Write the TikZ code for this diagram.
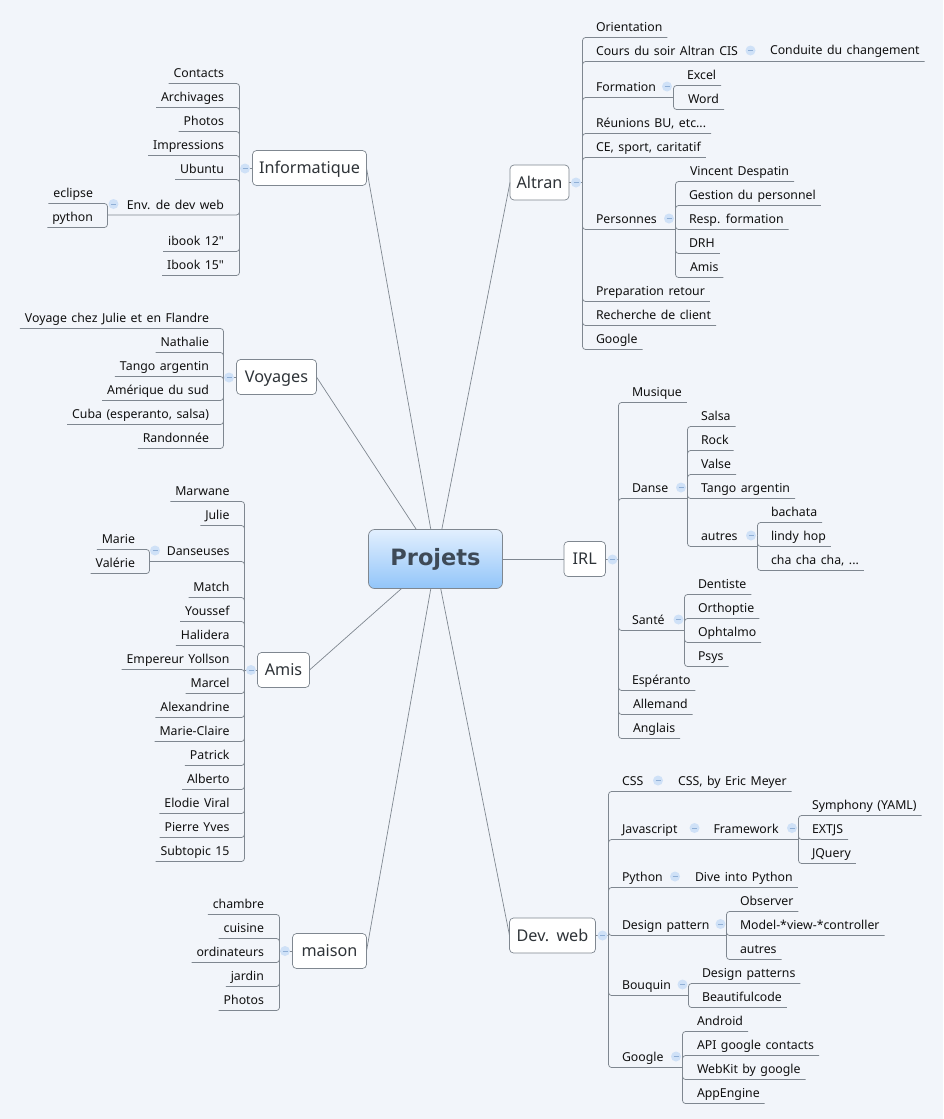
\documentclass[tikz,border=0pt]{standalone}
\usepackage{fontspec}
\newfontfamily\leaffont{Noto Sans}[WordSpace=1.4, Ligatures=NoCommon]
\newfontfamily\rootfont{DejaVu Sans}
\usetikzlibrary{positioning}
\definecolor{bgcol}{HTML}{F2F5FA}
\definecolor{linecol}{HTML}{7F8790}
\definecolor{hubcol}{HTML}{CFE1F7}
\definecolor{hubdash}{HTML}{8FAFD6}
\definecolor{leafcol}{HTML}{101010}
\definecolor{topiccol}{HTML}{2E3338}
\definecolor{rootcol}{HTML}{3E4A57}
\definecolor{roottop}{HTML}{E2EFFE}
\definecolor{rootbottom}{HTML}{92C5F9}
\tikzset{
  leaf/.style={inner xsep=5pt, inner ysep=2.3pt, text height=10pt, text depth=3.5pt, outer sep=0pt, text=leafcol, font=\leaffont\fontsize{12.3}{14}\selectfont},
  leafR/.style={leaf, anchor=south west},
  leafL/.style={leaf, anchor=south east},
  topicbox/.style={draw=linecol, fill=white, rounded corners=4pt, line width=0.7pt, minimum height=35pt, inner xsep=0pt, inner ysep=0pt, text height=15pt, text depth=3.4pt, outer sep=0pt, text=topiccol, font=\leaffont\fontsize{16.2}{18}\selectfont},
  branch/.style={draw=linecol, line width=0.75pt, rounded corners=3pt},
  spoke/.style={draw=linecol, line width=0.7pt},
  hub/.style={circle, fill=hubcol, minimum size=10pt, inner sep=0pt, outer sep=0pt, path picture={\draw[hubdash, line width=0.8pt] (-2.5,0)--(2.5,0);}},
}
\begin{document}
\begin{tikzpicture}[x=1pt, y=-1pt]
\fill[bgcol] (0,0) rectangle (943,1119);
\useasboundingbox (0,0) rectangle (943,1119);

%%%%%%%%%% Root and topics %%%%%%%%
{
\node[draw=linecol, rounded corners=6pt, line width=0.7pt, top color=roottop, bottom color=rootbottom, minimum width=134pt, minimum height=59pt, outer sep=0pt, text=rootcol, font=\rootfont\fontsize{22.5}{26}\selectfont\bfseries] (projets) at (435.5,559) {Projets};

\node[topicbox, minimum width=59pt] (altran) at (539.5,182.5) {Altran};
\node[topicbox, minimum width=41.5pt] (irl) at (584.75,559) {IRL};
\node[topicbox, minimum width=86pt] (devweb) at (552.5,935.5) {Dev. web};
\node[topicbox, minimum width=114pt] (informatique) at (309.5,168) {Informatique};
\node[topicbox, minimum width=80pt] (voyages) at (276.5,377) {Voyages};
\node[topicbox, minimum width=52pt] (amis) at (283.5,670) {Amis};
\node[topicbox, minimum width=74pt] (maison) at (329.5,951) {maison};
}
%%%%%%%%%% Spokes %%%%%%%%
{
\draw[spoke] (projets.78.7)--(altran.west);
\draw[spoke] (projets.99)--(informatique.east);
\draw[spoke] (projets.123.5)--(voyages.east);
\draw[spoke] (projets.0)--(irl.west);
\draw[spoke] (projets.221.4)--(amis.east);
\draw[spoke] (projets.261)--(maison.east);
\draw[spoke] (projets.280.6)--(devweb.west);
}
%%%%%%%%%%%%     Altran   %%%%%%%%%%%%
{
\coordinate (altranT) at (582.5,200);
\draw[spoke] (altran.east)--(altran.east -| altranT);
\foreach \nm/\yy/\txt in {orientation/37.5/Orientation, reunions/133.5/{Réunions BU, etc...}, ce/157.5/{CE, sport, caritatif}, preparation/301.5/Preparation retour, recherche/325.5/Recherche de client, googleA/349.5/Google}{
\node[leafR] (\nm) at (591,\yy) {\txt};
\draw[branch] (altranT)|-(\nm.south east);
}
\node[leafR] (cours) at (591,61.5) {Cours du soir Altran CIS};
\node[leafR] (conduite) at (765,61.5) [yshift=1.3pt]{Conduite du changement};
\draw[branch] (altranT)|-(cours.south east)--(conduite.south east |- cours.south);

\coordinate (formationT) at (673.5,90);
\node[leafR] (formation) at (591,97.5) {Formation};
\draw[branch] (altranT)|-(formation.south east)--(formation.south -| formationT);
\foreach \nm/\yy/\xx/\txt in {excel/85.5/682/Excel, word/109.5/683/Word}{
\node[leafR] (\nm) at (\xx,\yy) {\txt};
\draw[branch] (formationT)|-(\nm.south east);
}
\coordinate (personnesT) at (675.5,218);
\node[leafR] (personnes) at (591,229.5) {Personnes};
\draw[branch] (altranT)|-(personnes.south east)--(personnes.south -| personnesT);
\foreach \nm/\yy/\xx/\txt in {vincent/181.5/685/Vincent Despatin, gestion/205.5/684/Gestion du personnel, resp/229.5/684/Resp. formation, drh/253.5/684/DRH, amisA/277.5/685/Amis}{
\node[leafR] (\nm) at (\xx,\yy) {\txt};
\draw[branch] (personnesT)|-(\nm.south east);
}
\node[hub] (altranHub) at (576,182.5) {};
\node[hub] (coursHub) at (750.5,50.5) {};
\node[hub] (formationHub) at (667,86.5) {};
\node[hub] (personnesHub) at (669,218.5) {};
}
%%%%%%%%%%%%     IRL   %%%%%%%%%%%%
{
\coordinate (irlT) at (618.5,570);
\draw[spoke] (irl.east)--(irl.east -| irlT);
\foreach \nm/\yy/\xx/\txt in {musique/402.5/627/Musique, esperanto/690.5/627/Espéranto, allemand/714.5/628/Allemand, anglais/738.5/628/Anglais}{
\node[leafR] (\nm) at (\xx,\yy) {\txt};
\draw[branch] (irlT)|-(\nm.south east);
}
\coordinate (danseT) at (687.5,487.5);
\node[leafR] (danse) at (627,498.5) {Danse};
\draw[branch] (irlT)|-(danse.south east)--(danse.south -| danseT);
\foreach \nm/\yy/\txt in {salsa/426.5/Salsa, rock/450.5/Rock, valse/474.5/Valse, tango/498.5/Tango argentin}{
\node[leafR] (\nm) at (696,\yy) {\txt};
\draw[branch] (danseT)|-(\nm.south east);
}
\coordinate (autresT) at (757.5,535.5);
\node[leafR] (autresA) at (696,546.5) {autres};
\draw[branch] (danseT)|-(autresA.south east)--(autresA.south -| autresT);
\foreach \nm/\yy/\txt in {bachata/522.5/bachata, lindy/546.5/lindy hop, chacha/570.5/{cha cha cha, ...}}{
\node[leafR] (\nm) at (766,\yy) {\txt};
\draw[branch] (autresT)|-(\nm.south east);
}
\coordinate (santeT) at (684.5,625);
\node[leafR] (sante) at (627,630.5) {Santé};
\draw[branch] (irlT)|-(sante.south east)--(sante.south -| santeT);
\foreach \nm/\yy/\txt in {dentiste/594.5/Dentiste, orthoptie/618.5/Orthoptie, ophtalmo/642.5/Ophtalmo, psys/666.5/Psys}{
\node[leafR] (\nm) at (693,\yy) {\txt};
\draw[branch] (santeT)|-(\nm.south east);
}
\node[hub] (irlHub) at (612.5,559.5) {};
\node[hub] (danseHub) at (681,487.5) {};
\node[hub] (autresHub) at (751,535.5) {};
\node[hub] (santeHub) at (678.5,619.5) {};
}
%%%%%%%%%%%%     Dev. web   %%%%%%%%%%%%
{
\coordinate (devT) at (608.5,925);
\draw[spoke] (devweb.east)--(devweb.east -| devT);

\node[leafR] (css) at (617,791.5) {CSS};
\node[leafR] (meyer) at (673,791.5) {CSS, by Eric Meyer};
\draw[branch] (devT)|-(css.south east)--(meyer.south east);

\coordinate (frameworkT) at (798.5,828);
\node[leafR] (javascript) at (617,839.5) {Javascript};
\node[leafR] (framework) at (708.5,839.5) {Framework};
\draw[branch] (devT)|-(javascript.south east)--(framework.south east)--(framework.south -| frameworkT);
\foreach \nm/\yy/\txt in {symphony/815.5/Symphony (YAML), extjs/839.5/EXTJS, jquery/863.5/JQuery}{
\node[leafR] (\nm) at (807,\yy) {\txt};
\draw[branch] (frameworkT)|-(\nm.south east);
}
\node[leafR] (python) at (617,887.5) {Python};
\node[leafR] (dive) at (690,887.5) {Dive into Python};
\draw[branch] (devT)|-(python.south east)--(dive.south east);

\coordinate (patternT) at (726.5,924);
\node[leafR] (pattern) at (617,935.5) {Design pattern};
\draw[branch] (devT)|-(pattern.south east)--(pattern.south -| patternT);
\foreach \nm/\yy/\txt in {observer/911.5/Observer, model/935.5/Model-*view-*controller, autresB/959.5/autres}{
\node[leafR] (\nm) at (735,\yy) {\txt};
\draw[branch] (patternT)|-(\nm.south east);
}
\coordinate (bouquinT) at (688.5,990);
\node[leafR] (bouquin) at (617,995.5) {Bouquin};
\draw[branch] (devT)|-(bouquin.south east)--(bouquin.south -| bouquinT);
\foreach \nm/\yy/\txt in {patterns/983.5/Design patterns, beautiful/1007.5/Beautifulcode}{
\node[leafR] (\nm) at (697,\yy) {\txt};
\draw[branch] (bouquinT)|-(\nm.south east);
}
\coordinate (googleT) at (682.5,1060);
\node[leafR] (googleB) at (617,1067.5) {Google};
\draw[branch] (devT)|-(googleB.south east)--(googleB.south -| googleT);
\foreach \nm/\yy/\txt in {android/1031.5/Android, api/1055.5/API google contacts, webkit/1079.5/WebKit by google, appengine/1103.5/AppEngine}{
\node[leafR] (\nm) at (692,\yy) {\txt};
\draw[branch] (googleT)|-(\nm.south east);
}
\node[hub] (devHub) at (602.5,935.5) {};
\node[hub] (cssHub) at (658,780.5) {};
\node[hub] (jsHub) at (694.5,828) {};
\node[hub] (frameworkHub) at (792,828) {};
\node[hub] (pythonHub) at (675,876.5) {};
\node[hub] (patternHub) at (720.5,924) {};
\node[hub] (bouquinHub) at (682.5,984.5) {};
\node[hub] (googleHub) at (676,1056.5) {};
}
%%%%%%%%%%%%     Informatique   %%%%%%%%%%%%
{
\coordinate (infoT) at (239.5,190);
\draw[spoke] (informatique.west)--(informatique.west -| infoT);
\foreach \nm/\yy/\txt in {contacts/83.5/Contacts, archivages/107.5/Archivages, photosA/131.5/Photos, impressions/155.5/Impressions, ubuntu/179.5/Ubuntu, ibookA/251.5/ibook 12", ibookB/275.5/Ibook 15"}{
\node[leafL] (\nm) at (229,\yy) {\txt};
\draw[branch] (infoT)|-(\nm.south west);
}
\coordinate (envT) at (107.5,210);
\node[leafL] (env) at (229,215) {Env. de dev web};
\draw[branch] (infoT)|-(env.south west)--(env.south -| envT);
\foreach \nm/\yy/\txt in {eclipse/203.5/eclipse, pythonA/227.5/python}{
\node[leafL] (\nm) at (98,\yy) {\txt};
\draw[branch] (envT)|-(\nm.south west);
}
\node[hub] (infoHub) at (245,168.5) {};
\node[hub] (envHub) at (113.5,204) {};
}
%%%%%%%%%%%%     Voyages   %%%%%%%%%%%%
{
\coordinate (voyagesT) at (223.5,390);
\draw[spoke] (voyages.west)--(voyages.west -| voyagesT);
\foreach \nm/\yy/\txt in {julieF/328.5/Voyage chez Julie et en Flandre, nathalie/352.5/Nathalie, tangoA/376.5/Tango argentin, amerique/400.5/Amérique du sud, cuba/424.5/{Cuba (esperanto, salsa)}, randonnee/448.5/Randonnée}{
\node[leafL] (\nm) at (214,\yy) {\txt};
\draw[branch] (voyagesT)|-(\nm.south west);
}
\node[hub] (voyagesHub) at (229,377.5) {};
}
%%%%%%%%%%%%     Amis   %%%%%%%%%%%%
{
\coordinate (amisT) at (244.5,680);
\draw[spoke] (amis.west)--(amis.west -| amisT);
\foreach \nm/\yy/\txt in {marwane/501.5/Marwane, julie/525.5/Julie, match/597.5/Match, youssef/621.5/Youssef, halidera/645.5/Halidera, empereur/669.5/Empereur Yollson, marcel/693.5/Marcel, alexandrine/717.5/Alexandrine, marieclaire/741.5/Marie-Claire, patrick/765.5/Patrick, alberto/789.5/Alberto, elodie/813.5/Elodie Viral, pierre/837.5/Pierre Yves, subtopic/861.5/Subtopic 15}{
\node[leafL] (\nm) at (234.5,\yy) {\txt};
\draw[branch] (amisT)|-(\nm.south west);
}
\coordinate (danseusesT) at (149.5,555);
\node[leafL] (danseuses) at (234.5,561.5) {Danseuses};
\draw[branch] (amisT)|-(danseuses.south west)--(danseuses.south -| danseusesT);
\foreach \nm/\yy/\txt in {marie/549.5/Marie, valerie/573.5/Valérie}{
\node[leafL] (\nm) at (140,\yy) {\txt};
\draw[branch] (danseusesT)|-(\nm.south west);
}
\node[hub] (amisHub) at (251,670) {};
\node[hub] (danseusesHub) at (155,550.5) {};
}
%%%%%%%%%%%%     maison   %%%%%%%%%%%%
{
\coordinate (maisonT) at (279.5,951);
\draw[spoke] (maison.west)--(maison.west -| maisonT);
\foreach \nm/\yy/\txt in {chambre/914.5/chambre, cuisine/938.5/cuisine, ordinateurs/962.5/ordinateurs, jardin/986.5/jardin, photosB/1010.5/Photos}{
\node[leafL] (\nm) at (269,\yy) {\txt};
\draw[branch] (maisonT)|-(\nm.south west);
}
\node[hub] (maisonHub) at (285,951) {};
}
\end{tikzpicture}
\end{document}
